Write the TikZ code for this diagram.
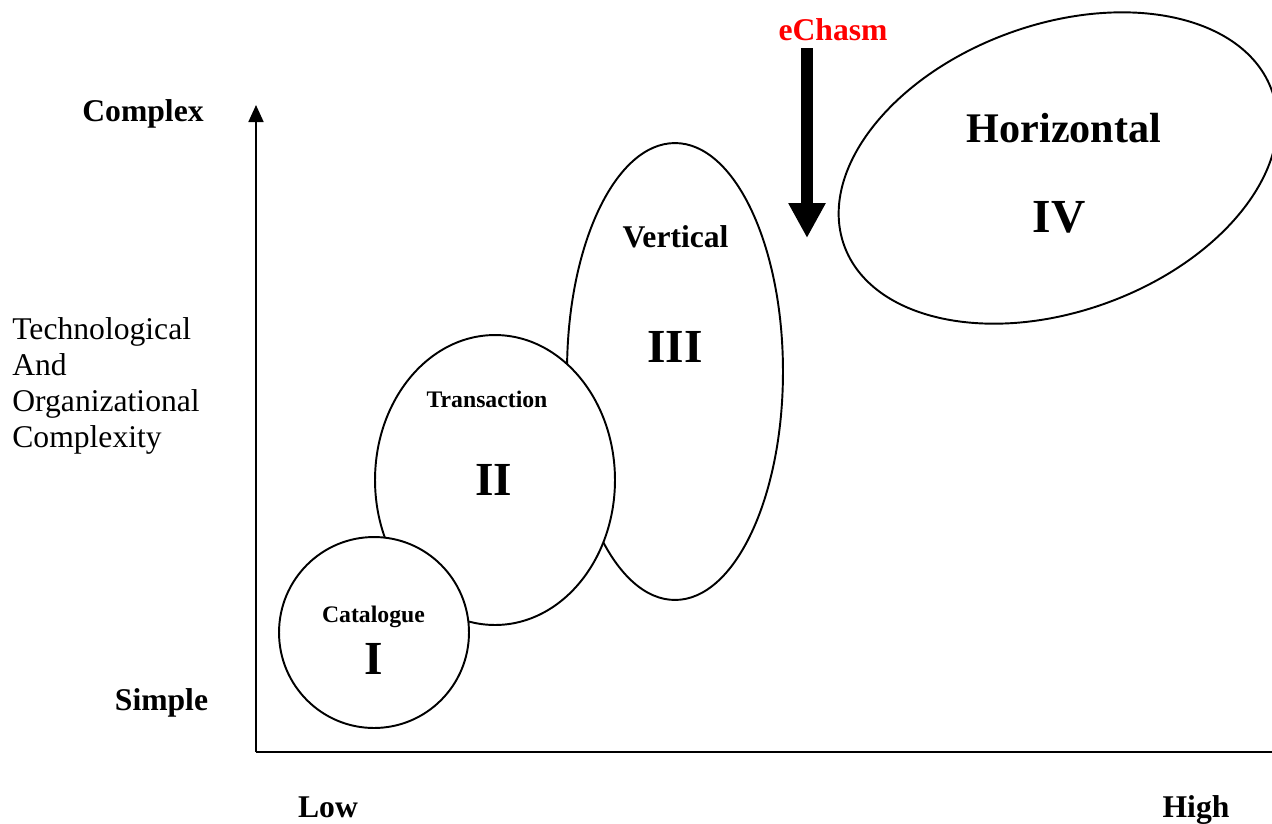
\documentclass[tikz,border=0pt]{standalone}
\usepackage{fontspec}
\setmainfont{Liberation Serif}
\usetikzlibrary{arrows.meta, shapes.geometric}
\definecolor{chasmred}{RGB}{255,0,0}

\begin{document}
\begin{tikzpicture}[x=0.02cm, y=-0.02cm,
    stage/.style={draw=black, fill=white, ellipse, line width=1.1pt, inner sep=0pt},
    axislbl/.style={font=\fontsize{18}{21}\selectfont\bfseries, anchor=base, inner sep=0pt},
    phase/.style={font=\fontsize{13.5}{16}\selectfont\bfseries, anchor=base, inner sep=0pt},
    numeral/.style={font=\fontsize{27}{30}\selectfont\bfseries, anchor=base, inner sep=0pt},
    axis/.style={-{Triangle[length=0.34cm, width=0.3cm]}, line width=1pt}
  ]
    \useasboundingbox (0,0) rectangle (1272,823);

    % axes
    \coordinate (origin) at (256,752);
    \coordinate (ytop) at (256,105);
    \coordinate (xend) at (1289,752);
    \draw[axis] (origin) -- (ytop);
    \draw[axis] (origin) -- (xend);

    % stages, back to front
    \node[stage, minimum width=4.32cm, minimum height=9.14cm] (vert) at (675,371.5) {};
    \node[stage, minimum width=4.8cm, minimum height=5.8cm] (trans) at (495,480) {};
    \node[stage, minimum width=3.8cm, minimum height=3.82cm] (cat) at (374,632.5) {};
    \node[stage, minimum width=9.1cm, minimum height=5.74cm, rotate=20] (horiz) at (1058,168) {};

    \node[phase] (catname) at (373.5,622) {Catalogue};
    \node[numeral] (catnum) at (374,674) {I};
    \node[phase] (transname) at (487,407) {Transaction};
    \node[numeral] (transnum) at (494,495) {II};
    \node[axislbl] (vertname) at (675.5,247) {Vertical};
    \node[numeral] (vertnum) at (675,362) {III};
    \node[font=\fontsize{24}{28}\selectfont\bfseries, anchor=base, inner sep=0pt] (horizname) at (1064,142) {Horizontal};
    \node[numeral] (horiznum) at (1059,232) {IV};

    % the chasm
    \coordinate (chasmtop) at (807,48);
    \coordinate (chasmtip) at (807,238);
    \draw[line width=0.24cm, -{Triangle[length=0.7cm, width=0.7cm]}] (chasmtop) -- (chasmtip);
    \node[axislbl, text=chasmred] (chasm) at (833,40) {eChasm};

    % axis labels
    \node[axislbl] (complex) at (143,121) {Complex};
    \node[axislbl] (simple) at (161.5,710) {Simple};
    \node[axislbl] (low) at (328,817) {Low};
    \node[axislbl] (high) at (1196,817) {High};
    \node[font=\fontsize{18}{20.4}\selectfont, align=left, anchor=base west, inner sep=0pt] (ylabel) at (12,447)
      {Technological\\And\\Organizational\\Complexity};
\end{tikzpicture}
\end{document}
